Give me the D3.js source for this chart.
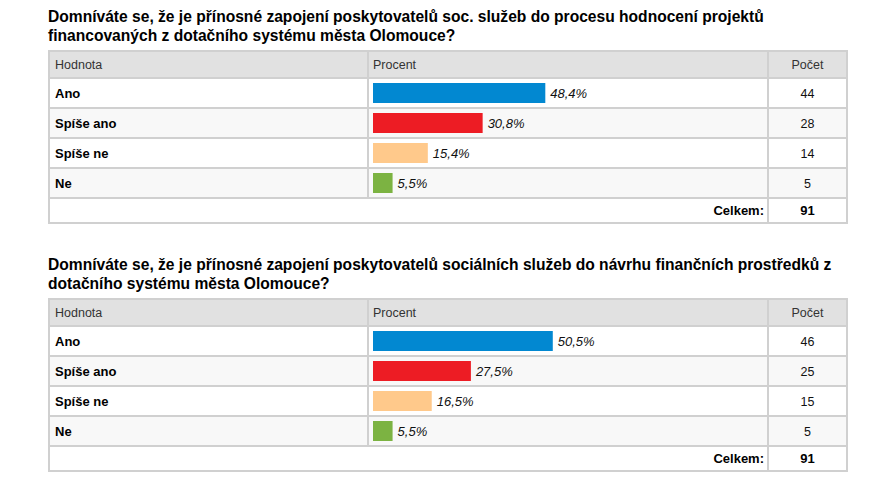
<!DOCTYPE html>
<html><head><meta charset="utf-8">
<script src="https://cdn.jsdelivr.net/npm/d3@7"></script>
<style>
html,body{margin:0;padding:0;background:#fff;}
svg{display:block;font-family:"Liberation Sans",Arial,sans-serif;}
</style></head>
<body><svg id="chart" width="882" height="501"></svg>
<script>
const categories = ["Ano", "Spíše ano", "Spíše ne", "Ne"];
const headers = ["Hodnota", "Procent", "Počet"];
const totalLabel = "Celkem:";
const titles1 = ["Domníváte se, že je přínosné zapojení poskytovatelů soc. služeb do procesu hodnocení projektů",
                 "financovaných z dotačního systému města Olomouce?"];
const titles2 = ["Domníváte se, že je přínosné zapojení poskytovatelů sociálních služeb do návrhu finančních prostředků z",
                 "dotačního systému města Olomouce?"];
const percents1 = [48.4, 30.8, 15.4, 5.5];
const counts1 = [44, 28, 14, 5];
const total1 = 91;
const percents2 = [50.5, 27.5, 16.5, 5.5];
const counts2 = [46, 25, 15, 5];
const total2 = 91;
const colors = ["#0288d1", "#ed1c24", "#ffc98b", "#7cb342"];

const svg = d3.select("#chart");
const x0 = 49, x1 = 368, x2 = 768, x3 = 847;
const headerH = 27, rowH = 30, totalH = 25;
const xBar = d3.scaleLinear().domain([0, 100]).range([0, 356]);
const fmt = v => d3.format(".1f")(v).replace(".", ",") + "%";

function drawTable(top, titles, percents, counts, total) {
  const g = svg.append("g");
  g.selectAll("text.title").data(titles).join("text")
    .attr("x", 48).attr("y", (d, i) => top - 29 + i * 19)
    .attr("font-size", 15.6).attr("font-weight", "bold").attr("fill", "#000")
    .text(d => d);

  const yRow = d3.scaleBand().domain(categories).range([top + headerH, top + headerH + rowH * categories.length]);
  const bottom = top + headerH + rowH * categories.length + totalH;

  g.append("rect").attr("x", x0).attr("y", top).attr("width", x3 - x0).attr("height", headerH).attr("fill", "#e1e1e1");
  g.selectAll("rect.row").data(categories).join("rect")
    .attr("x", x0).attr("y", d => yRow(d)).attr("width", x3 - x0).attr("height", yRow.bandwidth())
    .attr("fill", (d, i) => i % 2 ? "#f8f8f8" : "#ffffff");

  g.selectAll("rect.bar").data(categories).join("rect")
    .attr("x", x1 + 5).attr("y", d => yRow(d) + 5)
    .attr("width", (d, i) => xBar(percents[i])).attr("height", 20)
    .attr("fill", (d, i) => colors[i]);
  g.selectAll("text.pct").data(categories).join("text")
    .attr("x", (d, i) => x1 + 5 + xBar(percents[i]) + 5).attr("y", d => yRow(d) + 20)
    .attr("font-size", 13).attr("font-style", "italic").attr("fill", "#111")
    .text((d, i) => fmt(percents[i]));

  g.selectAll("text.cat").data(categories).join("text")
    .attr("x", 55).attr("y", d => yRow(d) + 20)
    .attr("font-size", 13).attr("font-weight", "bold").attr("fill", "#000")
    .text(d => d);
  g.selectAll("text.cnt").data(categories).join("text")
    .attr("x", (x2 + x3) / 2).attr("y", d => yRow(d) + 20).attr("text-anchor", "middle")
    .attr("font-size", 12.5).attr("fill", "#111")
    .text((d, i) => counts[i]);

  [[55, "start"], [x1 + 5, "start"], [(x2 + x3) / 2, "middle"]].forEach((p, i) => {
    g.append("text").attr("x", p[0]).attr("y", top + 18).attr("text-anchor", p[1])
      .attr("font-size", 12.5).attr("fill", "#333").text(headers[i]);
  });

  const ty = top + headerH + rowH * categories.length;
  g.append("text").attr("x", x2 - 4).attr("y", ty + 17).attr("text-anchor", "end")
    .attr("font-size", 13).attr("font-weight", "bold").attr("fill", "#000").text(totalLabel);
  g.append("text").attr("x", (x2 + x3) / 2).attr("y", ty + 17).attr("text-anchor", "middle")
    .attr("font-size", 13).attr("font-weight", "bold").attr("fill", "#000").text(total);

  const lc = "#d0d0d0";
  const hl = [top, top + headerH].concat(categories.map(d => yRow(d) + yRow.bandwidth()));
  g.selectAll("line.h").data(hl).join("line")
    .attr("x1", x0 - 1).attr("x2", x3 + 1).attr("y1", d => d).attr("y2", d => d)
    .attr("stroke", lc).attr("stroke-width", 2);
  g.append("line").attr("x1", x0 - 1).attr("x2", x3 + 1).attr("y1", bottom).attr("y2", bottom)
    .attr("stroke", lc).attr("stroke-width", 2);
  [x0, x3].forEach(x => g.append("line").attr("x1", x).attr("x2", x).attr("y1", top).attr("y2", bottom)
    .attr("stroke", lc).attr("stroke-width", 2));
  g.append("line").attr("x1", x1).attr("x2", x1).attr("y1", top).attr("y2", ty)
    .attr("stroke", lc).attr("stroke-width", 2);
  g.append("line").attr("x1", x2).attr("x2", x2).attr("y1", top).attr("y2", bottom)
    .attr("stroke", lc).attr("stroke-width", 2);
}

drawTable(51, titles1, percents1, counts1, total1);
drawTable(299, titles2, percents2, counts2, total2);
</script>
</body></html>
